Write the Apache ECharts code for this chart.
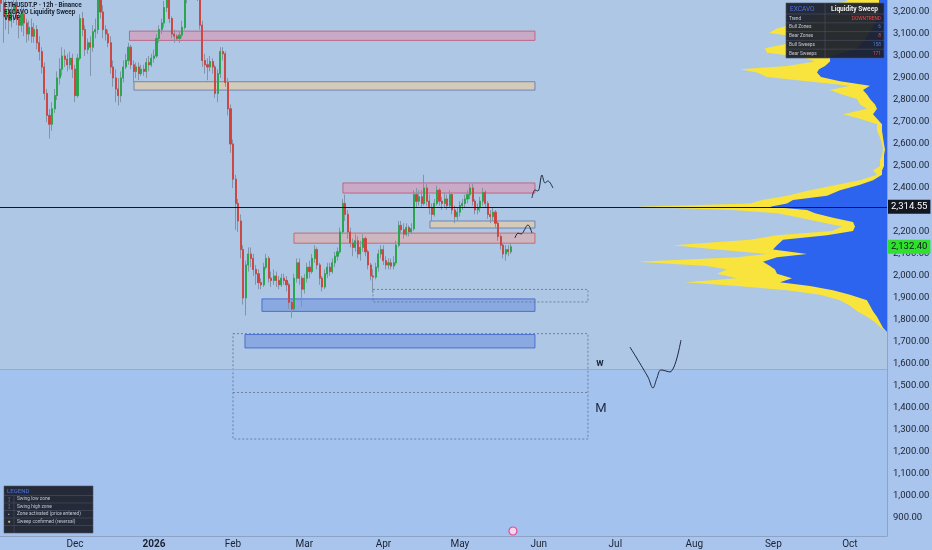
<!DOCTYPE html>
<html><head><meta charset="utf-8">
<script src="https://cdn.jsdelivr.net/npm/echarts@6/dist/echarts.min.js"></script>
<style>html,body{margin:0;padding:0;background:#a9c5ee}#c{width:932px;height:550px}</style>
</head><body><div id="c"></div><script>
// ---------------- DATA ----------------
const candleStart = '2025-11-02'; // one candle per day
const ohlc = [ // [open, close, low, high]
[3290,3240,3200,3330],[3240,3180,3060,3270],[3180,3210,3120,3260],[3210,3160,3100,3250],[3160,3200,3130,3250],
[3200,3230,3150,3270],[3230,3170,3140,3260],[3170,3140,3080,3200],[3140,3190,3110,3230],[3190,3150,3090,3220],
[3150,3100,3060,3170],[3100,3130,3070,3160],[3130,3090,3060,3170],[3090,3120,3060,3150],[3120,3060,3030,3140],
[3060,3020,2980,3090],[3020,2950,2920,3040],[2950,2830,2800,2970],[2830,2730,2700,2850],[2730,2690,2625,2760],
[2690,2760,2660,2790],[2760,2820,2740,2850],[2820,2900,2800,2930],[2900,2940,2870,2990],[2940,3000,2910,3040],
[3000,2985,2950,3030],[2985,2960,2930,3010],[2960,2990,2940,3020],[2990,2940,2900,3010],
[2940,2820,2790,2960],[2820,2990,2810,3010],[2990,3170,2980,3190],[3170,3120,3090,3200],[3120,3030,3000,3140],
[3030,3060,3010,3080],[3060,3040,2910,3090],[3040,3110,3020,3140],[3110,3120,3080,3170],[3120,3260,3100,3300],
[3260,3200,3170,3300],[3200,3120,3080,3230],[3120,3100,3070,3140],[3100,3060,3040,3120],[3060,2950,2920,3090],
[2950,2900,2860,2980],[2900,2850,2790,2940],[2850,2820,2775,2900],[2820,2900,2790,2930],[2900,2950,2880,2980],
[2950,2980,2940,3010],[2980,3040,2960,3060],[3040,2960,2940,3050],[2960,2930,2880,2980],[2930,2950,2900,2970],
[2950,2920,2890,2970],[2920,2940,2910,2960],[2940,2930,2910,2960],[2930,2970,2900,2990],[2970,2960,2930,3000],
[2960,2990,2950,3010],
[2990,3000,2970,3030],[3000,3080,2990,3100],[3080,3120,3060,3140],[3120,3150,3100,3170],[3150,3220,3130,3250],
[3220,3270,3200,3300],[3270,3170,3150,3290],[3170,3100,3080,3180],[3100,3090,3060,3120],[3090,3080,3070,3100],
[3080,3095,3060,3110],[3095,3130,3080,3160],[3130,3260,3120,3290],[3260,3340,3240,3380],[3340,3320,3290,3400],
[3320,3300,3270,3350],[3300,3310,3280,3340],[3310,3280,3250,3330],[3280,3140,3120,3300],[3140,2980,2950,3160],
[2980,2960,2920,3010],[2960,2950,2890,2990],[2950,2975,2930,3000],[2975,2950,2920,2990],[2950,2830,2810,2960],
[2830,2920,2790,2940],[2920,3020,2900,3040],[3020,3010,2980,3040],[3010,2880,2860,3020],[2880,2760,2730,2900],
[2760,2600,2560,2780],
[2600,2440,2400,2620],[2440,2330,2210,2460],[2330,2250,2200,2350],[2250,2120,2080,2280],[2120,1900,1870,2140],
[1900,2050,1820,2070],[2050,2100,2020,2130],[2100,2080,2040,2130],[2080,2030,2000,2100],[2030,2010,1960,2050],
[2010,1970,1940,2030],[1970,1960,1940,1990],[1960,2040,1950,2060],[2040,2080,2030,2100],[2080,1990,1970,2090],
[1990,1980,1950,2020],[1980,2000,1960,2030],[2000,1980,1950,2020],[1980,1960,1940,2000],[1960,1990,1950,2010],
[1990,1980,1960,2010],[1980,1960,1930,2000],[1960,1880,1850,1970],[1880,1850,1810,1900],[1850,1990,1840,2010],
[1990,2060,1970,2080],[2060,1990,1960,2080],[1990,1940,1860,2000],
[1940,1990,1920,2010],[1990,2040,1970,2060],[2040,2020,1990,2070],[2020,2080,2010,2100],[2080,2120,2060,2140],
[2120,2050,2030,2130],[2050,1990,1960,2060],[1990,1950,1930,2000],[1950,2010,1940,2030],[2010,2040,1990,2060],
[2040,2020,2000,2060],[2020,2060,2010,2080],[2060,2090,2040,2110],[2090,2110,2070,2130],[2110,2200,2100,2220],
[2200,2330,2190,2350],[2330,2280,2250,2370],[2280,2200,2170,2300],[2200,2150,2130,2220],[2150,2130,2090,2170],
[2130,2160,2110,2190],[2160,2100,2080,2180],[2100,2130,2070,2160],[2130,2170,2110,2190],[2170,2110,2090,2180],
[2110,2050,2030,2120],[2050,2000,1980,2060],[2000,1995,1925,2030],[1995,2040,1985,2060],[2040,2100,2020,2120],
[2100,2120,2080,2140],
[2120,2070,2050,2140],[2070,2050,2030,2090],[2050,2060,2030,2080],[2060,2045,2030,2080],[2045,2060,2030,2090],
[2060,2140,2050,2160],[2140,2230,2130,2250],[2230,2210,2190,2250],[2210,2190,2170,2240],[2190,2220,2180,2240],
[2220,2200,2180,2230],[2200,2215,2190,2240],[2215,2370,2205,2390],[2370,2340,2310,2400],[2340,2360,2320,2390],
[2360,2330,2310,2390],[2330,2400,2320,2460],[2400,2340,2320,2420],[2340,2310,2280,2370],[2310,2280,2250,2330],
[2280,2330,2270,2350],[2330,2390,2320,2410],[2390,2340,2320,2400],[2340,2330,2300,2360],[2330,2350,2310,2380],
[2350,2320,2300,2370],[2320,2370,2310,2390],[2370,2300,2280,2380],[2300,2270,2240,2320],[2270,2290,2250,2310],
[2290,2320,2270,2340],[2320,2330,2300,2350],[2330,2350,2310,2370],[2350,2370,2330,2390],[2370,2400,2350,2420],
[2400,2340,2320,2420],[2340,2300,2280,2350],[2300,2310,2280,2330],[2310,2340,2290,2360],[2340,2380,2320,2400],
[2380,2330,2310,2390],[2330,2280,2260,2340],[2280,2270,2240,2300],[2270,2290,2250,2310],[2290,2240,2220,2300],
[2240,2180,2160,2250],[2180,2140,2120,2190],[2140,2100,2080,2150],[2100,2120,2070,2140],[2120,2110,2090,2140],
[2110,2132.4,2100,2150]
];

// Volume profile (VRVP): price level, total volume, up (blue) volume
const profPrice = [3262,3250,3225,3200,3175,3150,3125,3105,3085,3060,3035,3015,2995,2975,2955,2940,2925,2905,2885,2865,2845,2825,2805,2780,2760,2735,2715,2690,2660,2630,2600,2575,2550,2525,2500,2480,2460,2435,2415,2390,2365,2345,2330,2315,2300,2285,2265,2245,2225,2205,2185,2165,2140,2120,2100,2085,2065,2045,2030,2010,1990,1972,1955,1935,1915,1890,1865,1840,1815,1790,1765,1745];
const profTotal = [40,40,60,50,70,90,110,118,85,95,122,120,85,72,100,147,130,120,80,37,57,45,30,27,20,44,27,10,10,7,5,4,5,7,7,14,10,27,50,77,100,125,137,250,155,110,87,67,45,55,110,137,214,170,120,150,250,180,160,170,150,202,150,100,67,47,37,30,20,12,6,0];
const profBlue  = [8,8,8,8,10,12,15,18,20,25,30,45,57,57,62,68,70,66,47,17,24,20,17,12,10,14,10,5,5,4,3,2,3,3,3,5,5,14,27,47,60,94,100,117,80,72,54,34,32,34,60,104,110,114,80,110,124,117,112,110,95,107,77,54,37,20,17,14,10,7,4,0];

// Liquidity zones: [start, end, top price, bottom price]
const bearZones = [
  ['2025-12-22T09:00:00Z','2026-05-30T11:00:00Z',3113,3071],
  ['2026-03-16T03:00:00Z','2026-05-30T11:00:00Z',2423,2377]
];
const mixedZones = [
  ['2026-02-24T22:00:00Z','2026-05-30T11:00:00Z',2195,2149]
];
const neutralZones = [
  ['2025-12-24T03:30:00Z','2026-05-30T11:00:00Z',2883,2845],
  ['2026-04-19T06:30:00Z','2026-05-30T11:00:00Z',2250,2218]
];
const bullZones = [
  ['2026-02-12T08:40:00Z','2026-05-30T11:00:00Z',1896,1839],
  ['2026-02-05T16:30:00Z','2026-05-30T11:00:00Z',1734,1673]
];
const sweepBoxes = [
  ['2026-03-27T22:00:00Z','2026-06-20T06:00:00Z',1939,1882],
  ['2026-02-01T00:00:00Z','2026-06-20T06:00:00Z',1738,1259]
];
const sweepDividers = [ // [start, end, price]
  ['2026-02-01T00:00:00Z','2026-06-20T06:00:00Z',1473]
];
const lowerBandTop = 1577;

// Hand-drawn projection paths
const projW_dates = ['2026-07-06T17:30:00Z','2026-07-13T19:00:00Z','2026-07-15T18:00:00Z','2026-07-17T07:40:00Z','2026-07-18T21:20:00Z','2026-07-22T10:00:00Z','2026-07-26T17:45:00Z'];
const projW_prices = [1677,1541,1491,1536,1573,1564,1709];
const projA_dates = ['2026-05-29T07:00:00Z','2026-05-30T11:00:00Z','2026-05-31T15:20:00Z','2026-06-02T05:00:00Z','2026-06-03T09:20:00Z','2026-06-04T13:30:00Z','2026-06-06T12:30:00Z'];
const projA_prices = [2355,2391,2386,2459,2423,2432,2400];
const projB_dates = ['2026-05-22T15:00:00Z','2026-05-23T19:00:00Z','2026-05-24T23:20:00Z','2026-05-27T17:20:00Z','2026-05-29T07:00:00Z'];
const projB_prices = [2173,2195,2191,2232,2195];

// Text annotations
const annotTexts = ['w','M'];
const annotDates = ['2026-06-24T23:00:00Z','2026-06-25T09:00:00Z'];
const annotPrices = [1600,1396];

// Price lines
const lastLinePrice = 2314.55;
const lastPrice = 2132.40;

// Axes
const monthTicks = ['2025-12-01','2026-01-01','2026-02-01','2026-03-01','2026-04-01','2026-05-01','2026-06-01','2026-07-01','2026-08-01','2026-09-01','2026-10-01'];
const monthLabels = ['Dec','2026','Feb','Mar','Apr','May','Jun','Jul','Aug','Sep','Oct'];
const priceTicks = [900,1000,1100,1200,1300,1400,1500,1600,1700,1800,1900,2000,2100,2200,2300,2400,2500,2600,2700,2800,2900,3000,3100,3200];

// Texts
const titleLines = ['ETHUSDT.P · 12h · Binance','EXCAVO Liquidity Sweep','VRVP'];
const tableHeader = ['EXCAVO','Liquidity Sweep'];
const tableLabels = ['Trend','Bull Zones','Bear Zones','Bull Sweeps','Bear Sweeps'];
const tableValues = ['DOWNTREND','6','8','158','171'];
const legendTitle = 'LEGEND';
const legendItems = ['Swing low zone','Swing high zone','Zone activated (price entered)','Sweep confirmed (reversal)',''];

// ---------------- BUILD ----------------
const DAY = 86400000;
const T = s => Date.parse(s.length === 10 ? s + 'T00:00:00Z' : s);
const t0 = T(candleStart);
const wickData = ohlc.map((d,k)=>[t0+k*DAY,d[0],d[1],d[2],d[3]]);
const bodyData = ohlc.map((d,k)=>[t0+k*DAY,d[0],d[1],Math.min(d[0],d[1]),Math.max(d[0],d[1])]);
const xMin = T('2025-11-01T14:00:00Z');
const xMax = T('2026-10-15T14:00:00Z');
const yMin = 818.2, yMax = 3254.5;
const monthTickValues = monthTicks.map(T);

function fmtPrice(v){
  const s = v.toFixed(2); const parts = s.split('.');
  return parts[0].replace(/\B(?=(\d{3})+(?!\d))/g, ',') + '.' + parts[1];
}
function zoneItems(list, style){
  return list.map(z => [
    {xAxis:T(z[0]), yAxis:z[2], itemStyle:style},
    {xAxis:T(z[1]), yAxis:z[3]}
  ]);
}
const bearStyle = {color:'rgba(250,120,150,0.38)', borderColor:'rgba(190,80,115,0.8)', borderWidth:1};
const mixedStyle = {color:'rgba(250,160,140,0.42)', borderColor:'rgba(205,85,85,0.8)', borderWidth:1};
const neutralStyle = {color:'rgba(252,205,140,0.5)', borderColor:'rgba(105,125,175,0.9)', borderWidth:1};
const bullStyle = {color:'rgba(55,100,215,0.3)', borderColor:'rgba(70,105,205,0.9)', borderWidth:1};
const sweepStyle = {color:'rgba(0,0,0,0)', borderColor:'rgba(105,122,150,0.9)', borderWidth:1, borderType:[2,2]};

function profileRender(params, api){
  const n = profPrice.length;
  const yellow = [api.coord([0, profPrice[0]])];
  const blue = [api.coord([0, profPrice[0]])];
  for (let i=0;i<n;i++){
    yellow.push(api.coord([profTotal[i], profPrice[i]]));
    blue.push(api.coord([profBlue[i], profPrice[i]]));
  }
  yellow.push(api.coord([0, profPrice[n-1]]));
  blue.push(api.coord([0, profPrice[n-1]]));
  return {type:'group', children:[
    {type:'polygon', shape:{points:yellow}, style:{fill:'#f8e43c'}},
    {type:'polygon', shape:{points:blue}, style:{fill:'#2c63ef'}}
  ]};
}

const lineStyleProj = {color:'#1d2940', width:1};
function proj(dates, prices){
  return {type:'line', data:dates.map((d,i)=>[T(d),prices[i]]), smooth:0.35, showSymbol:false, symbol:'none',
          lineStyle:lineStyleProj, z:5, silent:true, animation:false};
}

// table graphic
const ZG = 200;
const TW=98, TH=55, HH=11, RH=8.8, TC=39;
const tableChildren = [
  {type:'rect', z:ZG, shape:{x:0,y:0,width:TW,height:TH}, style:{fill:'rgba(30,34,45,0.95)', stroke:'#4d5366', lineWidth:0.6}},
  {type:'line', z:ZG+1, shape:{x1:TC,y1:0,x2:TC,y2:TH}, style:{stroke:'#4d5366', lineWidth:0.6}},
  {type:'text', z:ZG+2, style:{text:tableHeader[0], x:4, y:HH/2+0.5, fill:'#4d70dc', font:'6.5px Roboto', textVerticalAlign:'middle'}},
  {type:'text', z:ZG+2, style:{text:tableHeader[1], x:(TC+TW)/2, y:HH/2+0.5, fill:'#eceef2', font:'bold 6.6px Roboto', textAlign:'center', textVerticalAlign:'middle'}}
];
const valueColors = ['#e8474a','#4f7be8','#e8474a','#4f7be8','#e8474a'];
tableLabels.forEach((lab,i)=>{
  const y0 = HH + i*RH;
  tableChildren.push({type:'line', z:ZG+1, shape:{x1:0,y1:y0,x2:TW,y2:y0}, style:{stroke:'#4d5366', lineWidth:0.6}});
  tableChildren.push({type:'text', z:ZG+2, style:{text:lab, x:3, y:y0+RH/2, fill:'#c3c7d0', font:'4.8px Roboto', textVerticalAlign:'middle'}});
  tableChildren.push({type:'text', z:ZG+2, style:{text:tableValues[i], x:TW-3, y:y0+RH/2, fill:valueColors[i], font:'4.8px Roboto', textAlign:'right', textVerticalAlign:'middle'}});
});

// legend graphic
const LW=89, LH=47, LHH=9.5, LRH=7.5, LC=10;
const legendChildren = [
  {type:'rect', z:ZG, shape:{x:0,y:0,width:LW,height:LH}, style:{fill:'rgba(30,34,45,0.95)', stroke:'#4d5366', lineWidth:0.6}},
  {type:'text', z:ZG+2, style:{text:legendTitle, x:3, y:LHH/2+0.5, fill:'#4d70dc', font:'6px Roboto', textVerticalAlign:'middle'}},
  {type:'line', z:ZG+1, shape:{x1:LC,y1:LHH,x2:LC,y2:LH}, style:{stroke:'#4d5366', lineWidth:0.6}}
];
const legendIcons = ['¦','¦','▪','●',''];
const legendIconColors = ['#9aa0ad','#9aa0ad','#9aa0ad','#f5b324','#9aa0ad'];
legendItems.forEach((lab,i)=>{
  const y0 = LHH + i*LRH;
  legendChildren.push({type:'line', z:ZG+1, shape:{x1:0,y1:y0,x2:LW,y2:y0}, style:{stroke:'#4d5366', lineWidth:0.6}});
  legendChildren.push({type:'text', z:ZG+2, style:{text:legendIcons[i], x:LC/2, y:y0+LRH/2, fill:legendIconColors[i], font:'5px Roboto', textAlign:'center', textVerticalAlign:'middle'}});
  legendChildren.push({type:'text', z:ZG+2, style:{text:lab, x:LC+3, y:y0+LRH/2, fill:'#c3c7d0', font:'4.8px Roboto', textVerticalAlign:'middle'}});
});

const option = {
  animation:false,
  backgroundColor:'#a9c5ee',
  textStyle:{fontFamily:'Roboto'},
  grid:{left:0, right:45, top:0, bottom:14, show:true, backgroundColor:'#adc7e4', borderWidth:0, containLabel:false, outerBoundsMode:'none'},
  xAxis:[
    {type:'value', min:xMin, max:xMax, position:'bottom', scale:true,
     axisLine:{show:true, lineStyle:{color:'#8ea3c4', width:1}},
     axisTick:{show:false}, splitLine:{show:false},
     axisLabel:{customValues:monthTickValues, color:'#1b2230', fontSize:10, margin:3,
       formatter:(v)=>{ const i = monthTickValues.indexOf(v); const s = i>=0 ? monthLabels[i] : ''; return /^\d{4}$/.test(s) ? '{b|'+s+'}' : s; },
       rich:{b:{fontWeight:'bold', fontSize:10, color:'#1b2230'}}}},
    {type:'value', min:0, max:887, inverse:true, position:'top', show:false}
  ],
  yAxis:[{type:'value', min:yMin, max:yMax, position:'right', scale:true,
     axisLine:{show:true, lineStyle:{color:'#8ea3c4'}}, axisTick:{show:false}, splitLine:{show:false},
     axisLabel:{customValues:priceTicks, color:'#1b2230', fontSize:9.5, margin:6, formatter:fmtPrice}}],
  graphic:[
    {type:'text', x:4, y:2, z:ZG, style:{text:titleLines[0], font:'bold 6.4px Roboto', fill:'#1a2230'}},
    {type:'text', x:4, y:9, z:ZG, style:{text:titleLines[1], font:'bold 6.4px Roboto', fill:'#1a2230'}},
    {type:'text', x:4, y:15.5, z:ZG, style:{text:titleLines[2], font:'bold 6.4px Roboto', fill:'#1a2230'}},
    {type:'group', x:786, y:3, z:ZG, children:tableChildren},
    {type:'group', x:4, y:486, z:ZG, children:legendChildren}
  ],
  series:[
    {type:'line', name:'bg', data:[[t0,2000]], showSymbol:false, symbol:'none', lineStyle:{opacity:0}, z:0, silent:true,
     markArea:{silent:true, data:[[{yAxis:yMin, itemStyle:{color:'#a4c2ee'}},{yAxis:lowerBandTop}]]},
     markLine:{silent:true, symbol:['none','none'], label:{show:false}, lineStyle:{color:'#96a9c8', width:1, type:'solid'}, data:[{yAxis:lowerBandTop}]}},
    {type:'line', name:'zones', data:[[t0,2000]], showSymbol:false, symbol:'none', lineStyle:{opacity:0}, z:1, silent:true,
     markArea:{silent:true, data:[].concat(
        zoneItems(bearZones,bearStyle), zoneItems(mixedZones,mixedStyle), zoneItems(neutralZones,neutralStyle),
        zoneItems(bullZones,bullStyle), zoneItems(sweepBoxes,sweepStyle))},
     markLine:{silent:true, symbol:['none','none'], label:{show:false},
        lineStyle:{color:'rgba(105,122,150,0.9)', width:1, type:[2,2]},
        data: sweepDividers.map(d=>[{coord:[T(d[0]),d[2]]},{coord:[T(d[1]),d[2]]}])},
     markPoint:{silent:true, data:[
        {coord:[T(annotDates[0]),annotPrices[0]], symbol:'circle', symbolSize:1, itemStyle:{color:'rgba(0,0,0,0)'},
         label:{show:true, position:'inside', formatter:annotTexts[0], color:'#1d2940', fontSize:10, fontWeight:'bold'}},
        {coord:[T(annotDates[1]),annotPrices[1]], symbol:'circle', symbolSize:1, itemStyle:{color:'rgba(0,0,0,0)'},
         label:{show:true, position:'inside', formatter:annotTexts[1], color:'#1d2940', fontSize:13}},
        {coord:[T('2026-05-21T20:00:00Z'),841], symbol:'circle', symbolSize:8, itemStyle:{color:'#f3d7ea', borderColor:'#e04a9a', borderWidth:1.2}, label:{show:false}}
     ]}},
    {type:'custom', name:'VRVP', coordinateSystem:'cartesian2d', xAxisIndex:1, yAxisIndex:0, data:[[0,profPrice[0]]],
     renderItem:profileRender, z:2, silent:true, clip:false},
    {type:'candlestick', name:'wick', data:wickData, barWidth:1.6, z:3, silent:true,
     itemStyle:{color:'rgba(0,0,0,0)', color0:'rgba(0,0,0,0)', borderColor:'#8494a8', borderColor0:'#8494a8', borderWidth:1}},
    {type:'candlestick', name:'ETHUSDT.P', data:bodyData, barWidth:1.6, z:4, silent:true,
     itemStyle:{color:'#22a745', color0:'#d3403a', borderColor:'#22a745', borderColor0:'#d3403a', borderWidth:0.8},
     markLine:{silent:true, symbol:['none','none'], data:[
       {yAxis:lastLinePrice, lineStyle:{color:'#131722', width:1, type:'solid'},
        label:{show:true, position:'end', distance:1, formatter:fmtPrice(lastLinePrice), backgroundColor:'#131722', color:'#ffffff', fontSize:9.5, padding:[2,3,2,3]}},
       {yAxis:lastPrice, lineStyle:{color:'rgba(0,0,0,0)', width:1},
        label:{show:true, position:'end', distance:1, formatter:fmtPrice(lastPrice), backgroundColor:'#31e02f', color:'#131722', fontSize:9.5, padding:[2,3,2,3]}}
     ]}},
    proj(projW_dates, projW_prices),
    proj(projA_dates, projA_prices),
    proj(projB_dates, projB_prices)
  ]
};
const chart = echarts.init(document.getElementById('c'));
chart.setOption(option);
</script></body></html>
